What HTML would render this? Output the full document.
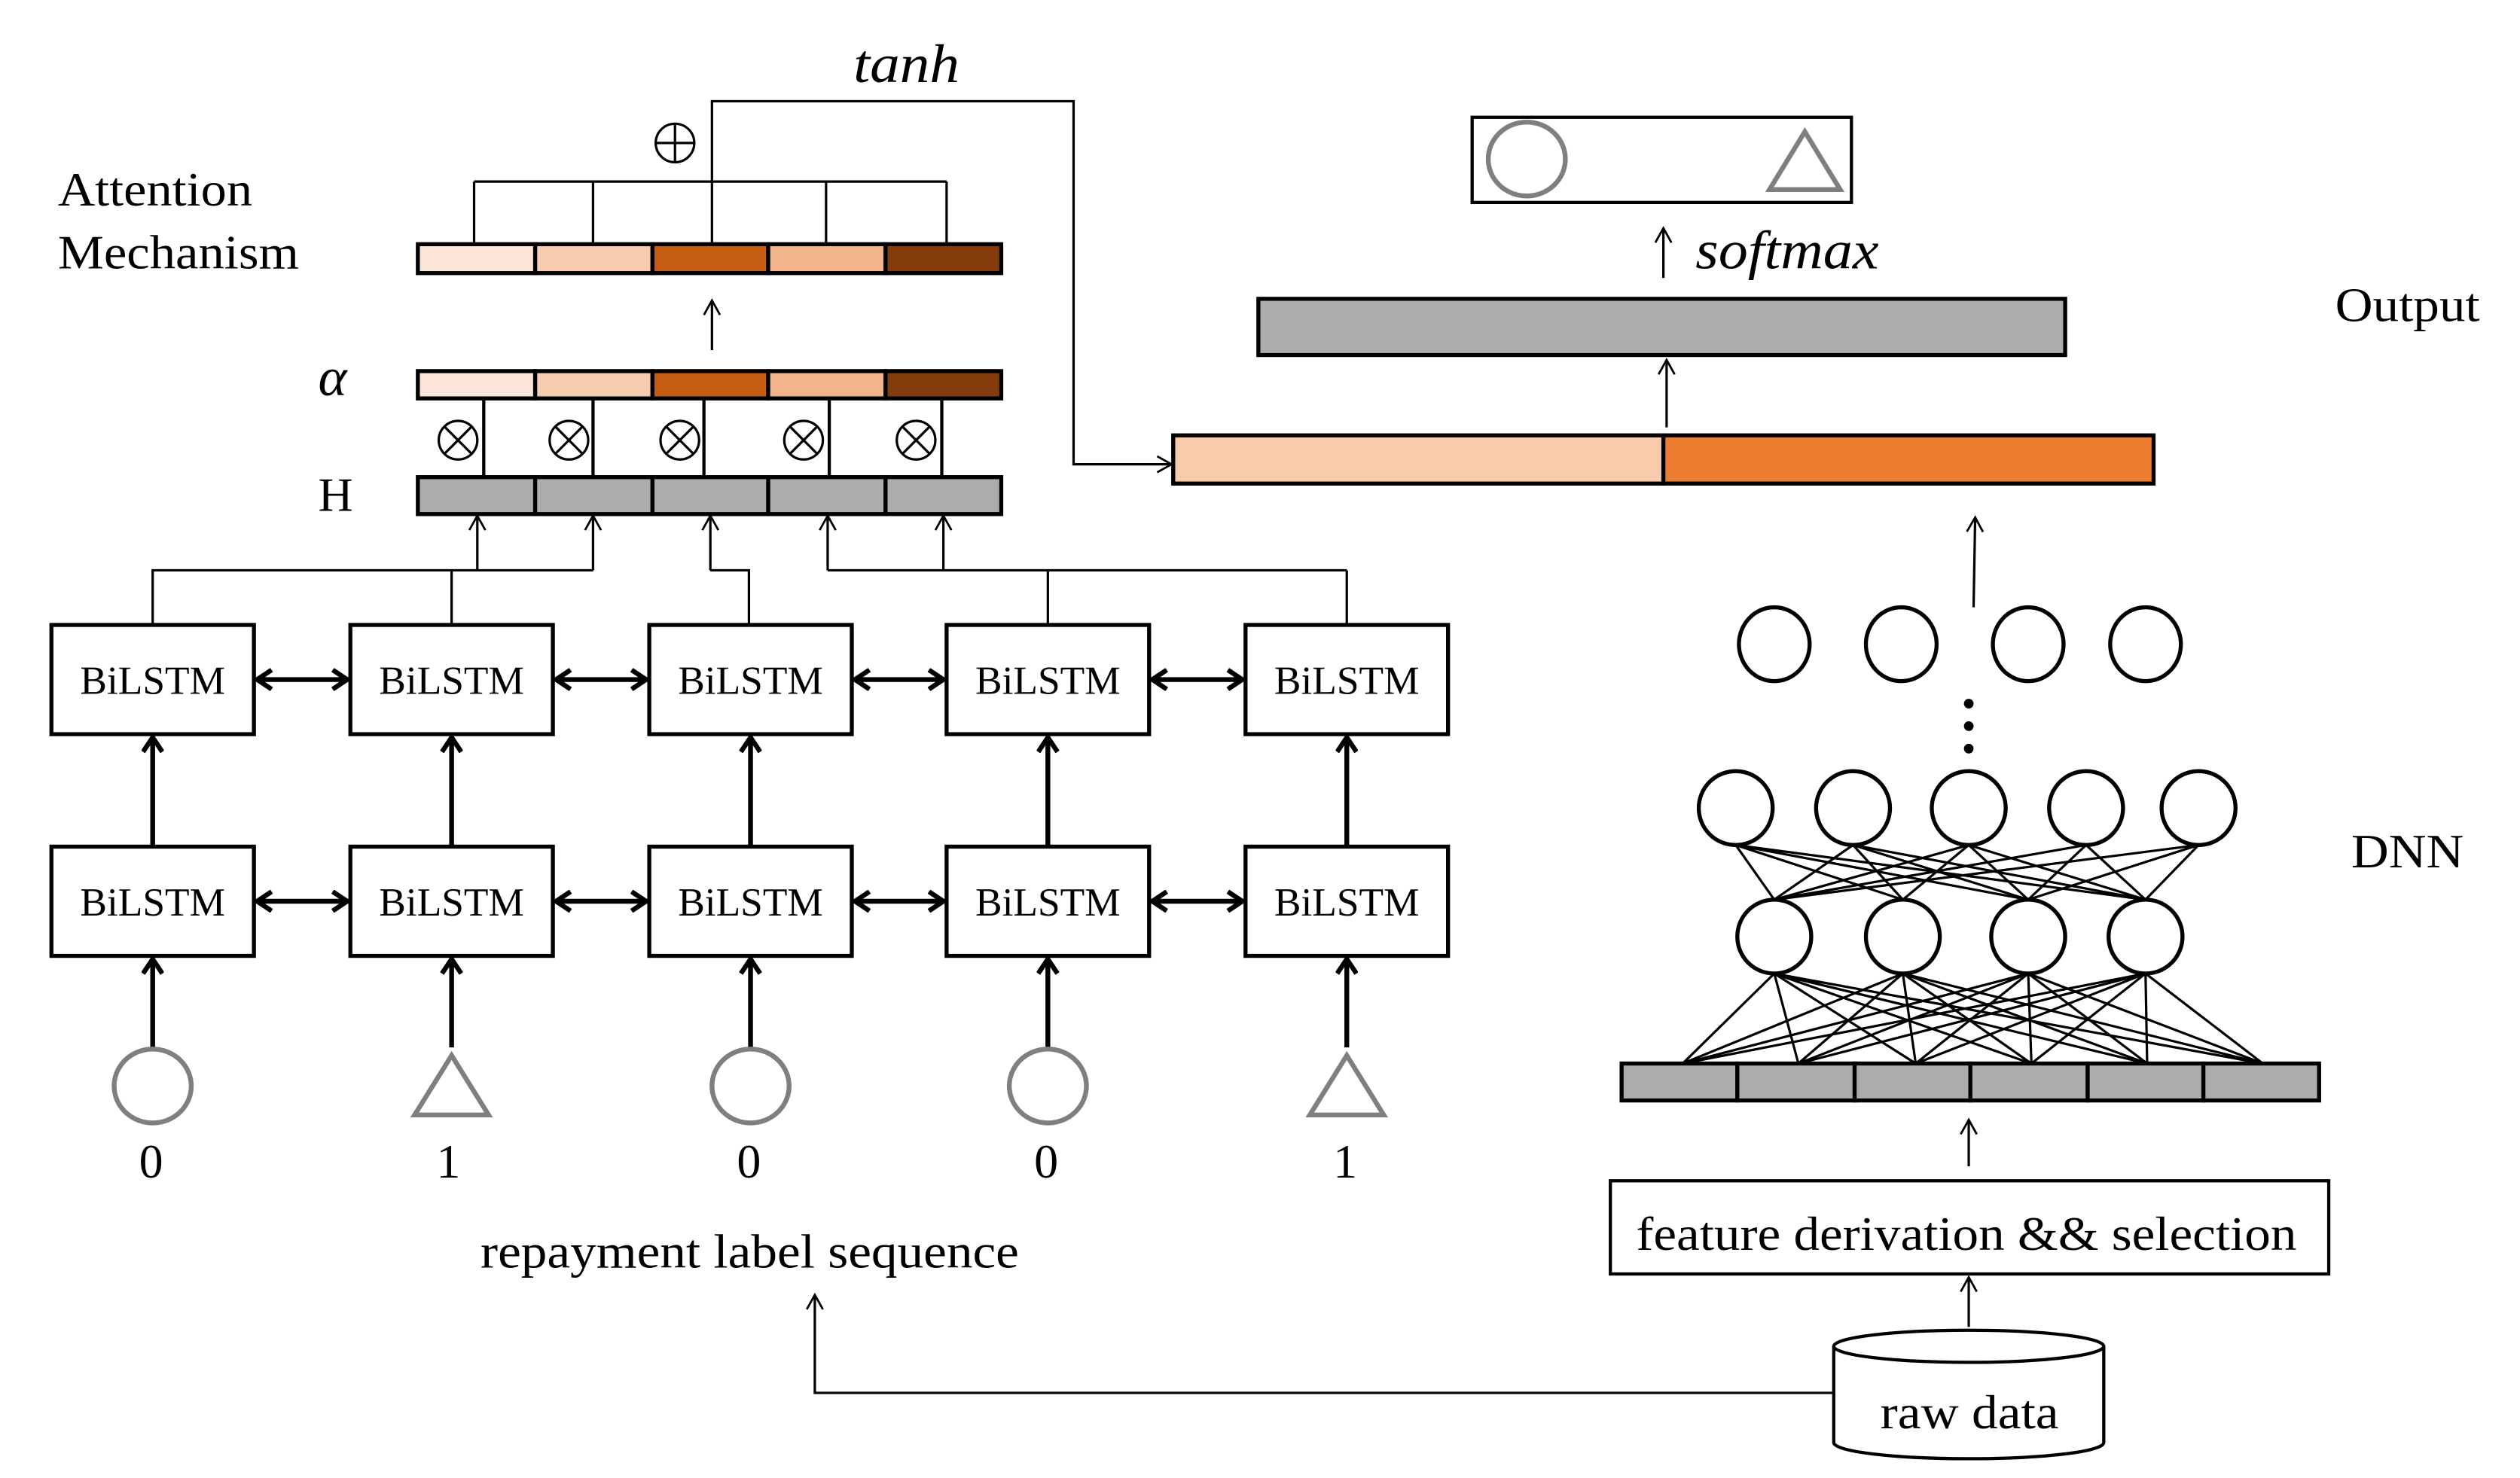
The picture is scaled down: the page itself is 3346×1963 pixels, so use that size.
<!DOCTYPE html>
<html><head><meta charset="utf-8"><style>
html,body{margin:0;padding:0;background:#fff;}
svg{display:block;}
text{font-family:"Liberation Serif","DejaVu Serif",serif;fill:#000;}
</style></head><body>
<svg width="3346" height="1963" viewBox="0 0 1568 920" preserveAspectRatio="none" xmlns="http://www.w3.org/2000/svg">
<defs>
<marker id="oa" markerWidth="12" markerHeight="12" refX="10" refY="6" orient="auto" markerUnits="userSpaceOnUse">
<path d="M1,1 L10,6 L1,11" fill="none" stroke="#000" stroke-width="1.3"/></marker>
<marker id="ta" markerWidth="14" markerHeight="14" refX="11" refY="7" orient="auto-start-reverse" markerUnits="userSpaceOnUse">
<path d="M2,1 L11,7 L2,13" fill="none" stroke="#000" stroke-width="3"/></marker>
</defs>
<rect width="1568" height="920" fill="#fff"/>

<!-- labels -->
<text x="36" y="128" font-size="30" textLength="121" lengthAdjust="spacingAndGlyphs">Attention</text>
<text x="36" y="167" font-size="30" textLength="150" lengthAdjust="spacingAndGlyphs">Mechanism</text>
<text x="198" y="246" font-size="34" font-style="italic">α</text>
<text x="198" y="318" font-size="30">H</text>
<text x="531" y="51" font-size="34" font-style="italic" textLength="66" lengthAdjust="spacingAndGlyphs">tanh</text>

<!-- attention bars -->
<g stroke="#000" stroke-width="2.5">
<rect x="260" y="152" width="73" height="18" fill="#FAE5D8"/>
<rect x="333" y="152" width="73" height="18" fill="#F7CBAE"/>
<rect x="406" y="152" width="72" height="18" fill="#C45C14"/>
<rect x="478" y="152" width="73" height="18" fill="#F2B48A"/>
<rect x="551" y="152" width="72" height="18" fill="#843C0C"/>
<rect x="260" y="231" width="73" height="17" fill="#FAE5D8"/>
<rect x="333" y="231" width="73" height="17" fill="#F7CBAE"/>
<rect x="406" y="231" width="72" height="17" fill="#C45C14"/>
<rect x="478" y="231" width="73" height="17" fill="#F2B48A"/>
<rect x="551" y="231" width="72" height="17" fill="#843C0C"/>
<rect x="260" y="297" width="73" height="23" fill="#AEABAB"/>
<rect x="333" y="297" width="73" height="23" fill="#AEABAB"/>
<rect x="406" y="297" width="72" height="23" fill="#AEABAB"/>
<rect x="478" y="297" width="73" height="23" fill="#AEABAB"/>
<rect x="551" y="297" width="72" height="23" fill="#AEABAB"/>
</g>
<g stroke="#000" stroke-width="1.5" fill="none">
<path d="M295,113 L589,113 M295,113 L295,152 M369,113 L369,152 M443,113 L443,152 M514,113 L514,152 M589,113 L589,152"/>
<path d="M443,113 L443,63 L668,63 L668,289 L729,289" marker-end="url(#oa)"/>
<path d="M443,218 L443,187" marker-end="url(#oa)"/>
<path d="M301,248 L301,297 M369,248 L369,297 M438,248 L438,297 M516,248 L516,297 M586,248 L586,297" stroke-width="2"/>
<path d="M95,389 L95,355 L369,355 M281,389 L281,355 M466,389 L466,355 L442,355 M515,355 L838,355 M652,389 L652,355 M838,389 L838,355"/>
<path d="M297,355 L297,321" marker-end="url(#oa)"/>
<path d="M369,355 L369,321" marker-end="url(#oa)"/>
<path d="M442,355 L442,321" marker-end="url(#oa)"/>
<path d="M515,355 L515,321" marker-end="url(#oa)"/>
<path d="M587,355 L587,321" marker-end="url(#oa)"/>
</g>
<!-- ⊕ and ⊗ -->
<g stroke="#000" stroke-width="1.5" fill="none">
<ellipse cx="420" cy="89" rx="12" ry="12"/>
<path d="M408,89 L432,89 M420,77 L420,101"/>
<ellipse cx="285" cy="274" rx="12" ry="12"/><path d="M277,266 L293,282 M293,266 L277,282"/>
<ellipse cx="354" cy="274" rx="12" ry="12"/><path d="M346,266 L362,282 M362,266 L346,282"/>
<ellipse cx="423" cy="274" rx="12" ry="12"/><path d="M415,266 L431,282 M431,266 L415,282"/>
<ellipse cx="500" cy="274" rx="12" ry="12"/><path d="M492,266 L508,282 M508,266 L492,282"/>
<ellipse cx="570" cy="274" rx="12" ry="12"/><path d="M562,266 L578,282 M578,266 L562,282"/>
</g>

<!-- BiLSTM boxes -->
<g stroke="#000" stroke-width="2.5" fill="#fff">
<rect x="32" y="389" width="126" height="68"/><rect x="218" y="389" width="126" height="68"/><rect x="404" y="389" width="126" height="68"/><rect x="589" y="389" width="126" height="68"/><rect x="775" y="389" width="126" height="68"/>
<rect x="32" y="527" width="126" height="68"/><rect x="218" y="527" width="126" height="68"/><rect x="404" y="527" width="126" height="68"/><rect x="589" y="527" width="126" height="68"/><rect x="775" y="527" width="126" height="68"/>
</g>
<g font-size="25" text-anchor="middle">
<text x="95" y="432">BiLSTM</text><text x="281" y="432">BiLSTM</text><text x="467" y="432">BiLSTM</text><text x="652" y="432">BiLSTM</text><text x="838" y="432">BiLSTM</text>
<text x="95" y="570">BiLSTM</text><text x="281" y="570">BiLSTM</text><text x="467" y="570">BiLSTM</text><text x="652" y="570">BiLSTM</text><text x="838" y="570">BiLSTM</text>
</g>
<g stroke="#000" stroke-width="3" fill="none" marker-start="url(#ta)" marker-end="url(#ta)">
<path d="M160,423 L216,423"/><path d="M346,423 L402,423"/><path d="M532,423 L587,423"/><path d="M717,423 L773,423"/>
<path d="M160,561 L216,561"/><path d="M346,561 L402,561"/><path d="M532,561 L587,561"/><path d="M717,561 L773,561"/>
</g>
<g stroke="#000" stroke-width="3" fill="none" marker-end="url(#ta)">
<path d="M95,527 L95,459"/><path d="M281,527 L281,459"/><path d="M467,527 L467,459"/><path d="M652,527 L652,459"/><path d="M838,527 L838,459"/>
<path d="M95,652 L95,597"/><path d="M281,652 L281,597"/><path d="M467,652 L467,597"/><path d="M652,652 L652,597"/><path d="M838,652 L838,597"/>
</g>
<!-- inputs -->
<g stroke="#7F7F7F" stroke-width="3" fill="#fff">
<ellipse cx="95" cy="676" rx="24" ry="23"/>
<path d="M281,657 L304,694 L258,694 Z"/>
<ellipse cx="467" cy="676" rx="24" ry="23"/>
<ellipse cx="652" cy="676" rx="24" ry="23"/>
<path d="M838,657 L861,694 L815,694 Z"/>
</g>
<g font-size="30" text-anchor="middle">
<text x="94" y="733">0</text><text x="279" y="733">1</text><text x="466" y="733">0</text><text x="651" y="733">0</text><text x="837" y="733">1</text>
</g>
<text x="299" y="789" font-size="30" textLength="335" lengthAdjust="spacingAndGlyphs">repayment label sequence</text>

<!-- Output side -->
<rect x="916" y="73" width="236" height="53" fill="#fff" stroke="#000" stroke-width="2"/>
<ellipse cx="950" cy="99" rx="24" ry="23" fill="none" stroke="#7F7F7F" stroke-width="3"/>
<path d="M1123,82 L1145,118 L1101,118 Z" fill="none" stroke="#7F7F7F" stroke-width="3"/>
<path d="M1035,173 L1035,142" stroke="#000" stroke-width="1.5" marker-end="url(#oa)"/>
<text x="1055" y="167" font-size="34" font-style="italic" textLength="114" lengthAdjust="spacingAndGlyphs">softmax</text>
<rect x="783" y="186" width="502" height="35" fill="#AEABAB" stroke="#000" stroke-width="2.5"/>
<path d="M1037,266 L1037,224" stroke="#000" stroke-width="1.5" marker-end="url(#oa)"/>
<rect x="730" y="271" width="305" height="30" fill="#F8CBAD" stroke="#000" stroke-width="2.5"/>
<rect x="1035" y="271" width="305" height="30" fill="#ED7D31" stroke="#000" stroke-width="2.5"/>
<text x="1453" y="200" font-size="30" textLength="90" lengthAdjust="spacingAndGlyphs">Output</text>
<text x="1463" y="540" font-size="30" textLength="70" lengthAdjust="spacingAndGlyphs">DNN</text>
<path d="M1228,378 L1229,322" stroke="#000" stroke-width="1.5" marker-end="url(#oa)"/>

<!-- DNN -->
<g stroke="#000" stroke-width="1.5">
<path d="M1080,526 L1104,560 M1080,526 L1184,560 M1080,526 L1262,560 M1080,526 L1335,560
M1153,526 L1104,560 M1153,526 L1184,560 M1153,526 L1262,560 M1153,526 L1335,560
M1225,526 L1104,560 M1225,526 L1184,560 M1225,526 L1262,560 M1225,526 L1335,560
M1298,526 L1104,560 M1298,526 L1262,560 M1298,526 L1335,560
M1368,526 L1104,560 M1368,526 L1262,560 M1368,526 L1335,560"/>
<path d="M1104,606 L1047,662 M1104,606 L1119,662 M1104,606 L1192,662 M1104,606 L1264,662 M1104,606 L1336,662 M1104,606 L1408,662
M1184,606 L1047,662 M1184,606 L1119,662 M1184,606 L1192,662 M1184,606 L1264,662 M1184,606 L1336,662 M1184,606 L1408,662
M1262,606 L1047,662 M1262,606 L1119,662 M1262,606 L1192,662 M1262,606 L1264,662 M1262,606 L1336,662 M1262,606 L1408,662
M1335,606 L1047,662 M1335,606 L1119,662 M1335,606 L1192,662 M1335,606 L1264,662 M1335,606 L1336,662 M1335,606 L1408,662"/>
</g>
<g stroke="#000" stroke-width="2.5" fill="#fff">
<ellipse cx="1104" cy="401" rx="22" ry="23"/><ellipse cx="1183" cy="401" rx="22" ry="23"/><ellipse cx="1262" cy="401" rx="22" ry="23"/><ellipse cx="1335" cy="401" rx="22" ry="23"/>
<ellipse cx="1080" cy="503" rx="23" ry="23"/><ellipse cx="1153" cy="503" rx="23" ry="23"/><ellipse cx="1225" cy="503" rx="23" ry="23"/><ellipse cx="1298" cy="503" rx="23" ry="23"/><ellipse cx="1368" cy="503" rx="23" ry="23"/>
<ellipse cx="1104" cy="583" rx="23" ry="23"/><ellipse cx="1184" cy="583" rx="23" ry="23"/><ellipse cx="1262" cy="583" rx="23" ry="23"/><ellipse cx="1335" cy="583" rx="23" ry="23"/>
</g>
<g fill="#000"><circle cx="1225" cy="438" r="3"/><circle cx="1225" cy="452" r="3"/><circle cx="1225" cy="466" r="3"/></g>
<g stroke="#000" stroke-width="2.5" fill="#AEABAB">
<rect x="1009" y="662" width="72" height="23"/><rect x="1081" y="662" width="73" height="23"/><rect x="1154" y="662" width="72" height="23"/><rect x="1226" y="662" width="73" height="23"/><rect x="1299" y="662" width="72" height="23"/><rect x="1371" y="662" width="72" height="23"/>
</g>
<path d="M1225,726 L1225,697" stroke="#000" stroke-width="1.5" marker-end="url(#oa)"/>
<rect x="1002" y="735" width="447" height="58" fill="#fff" stroke="#000" stroke-width="2"/>
<text x="1018" y="778" font-size="30" textLength="411" lengthAdjust="spacingAndGlyphs">feature derivation &amp;&amp; selection</text>
<path d="M1225,826 L1225,795" stroke="#000" stroke-width="1.5" marker-end="url(#oa)"/>
<!-- cylinder -->
<path d="M1141,838 L1141,898 A84,10 0 0 0 1309,898 L1309,838" fill="#fff" stroke="#000" stroke-width="2"/>
<ellipse cx="1225" cy="838" rx="84" ry="10" fill="#fff" stroke="#000" stroke-width="2"/>
<text x="1170" y="889" font-size="30" textLength="111" lengthAdjust="spacingAndGlyphs">raw data</text>
<path d="M1141,867 L507,867 L507,806" fill="none" stroke="#000" stroke-width="1.5" marker-end="url(#oa)"/>
</svg>
</body></html>
